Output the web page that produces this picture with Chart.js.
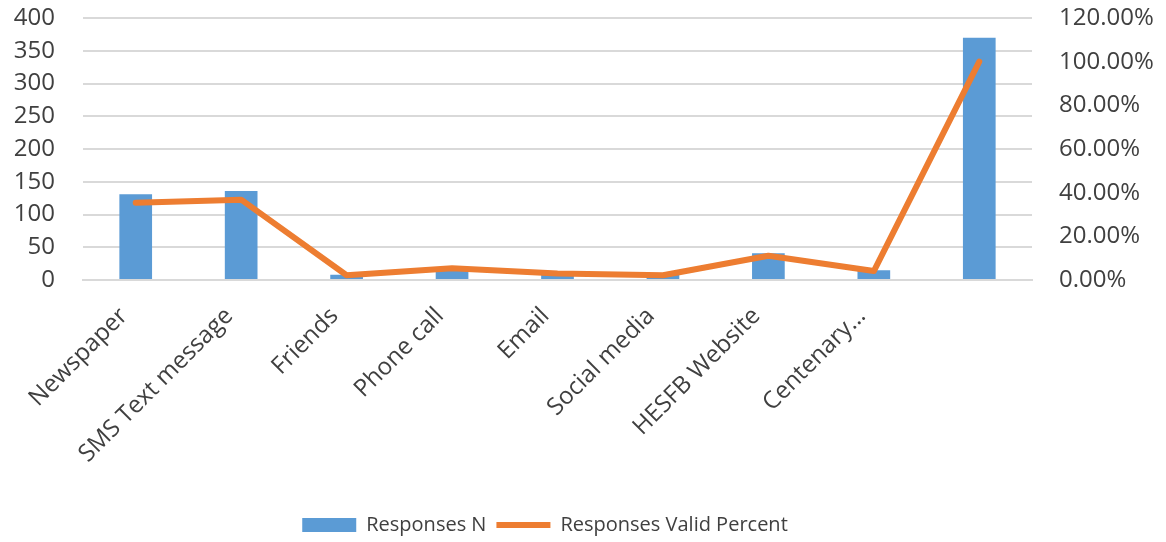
<!DOCTYPE html>
<html>
<head>
<meta charset="utf-8">
<script src="https://cdn.jsdelivr.net/npm/chart.js@4"></script>
<style>
  html, body { margin: 0; padding: 0; background: #fff; }
  #wrap { width: 1166px; height: 542px; position: relative; }
</style>
</head>
<body>
<div id="wrap"><canvas id="chart"></canvas></div>
<script>
const categories = ["Newspaper", "SMS Text message", "Friends", "Phone call", "Email", "Social media", "HESFB Website", "Centenary…", ""];
const responsesN = [131, 136, 8, 20, 11, 8, 41, 15, 370];
const validPercent = [35.4, 36.8, 2.2, 5.4, 3.0, 2.2, 11.1, 4.1, 100];
const leftTicks = [0, 400, 50];
const rightTicks = [0, 120, 20];

const TEXT = '#404040';
const FONT = '"Open Sans", "DejaVu Sans", sans-serif';

// axis label padding shouldn't push the plot area down
function fixAxis(w) {
    return (s) => { s.width = w; s.paddingTop = 0; s.paddingBottom = 0; };
}

// the legend sits a bit left of centre, under the plot
const shiftLegend = {
    id: 'shiftLegend',
    afterLayout(chart) {
        chart.legend.left -= 38;
        chart.legend.right -= 38;
        chart.legend.top += 3;
        chart.legend.bottom += 3;
    }
};

function initChart() {
    const ctx = document.getElementById('chart').getContext('2d');
    new Chart(ctx, {
        data: {
            labels: categories,
            datasets: [{
                type: 'line',
                label: 'Responses Valid Percent',
                data: validPercent,
                yAxisID: 'yR',
                borderColor: '#ED7D31',
                backgroundColor: '#ED7D31',
                borderWidth: 6,
                borderCapStyle: 'round',
                borderJoinStyle: 'round',
                pointRadius: 0,
                tension: 0,
                order: 0
            }, {
                type: 'bar',
                label: 'Responses N',
                data: responsesN,
                yAxisID: 'y',
                backgroundColor: '#5B9BD5',
                categoryPercentage: 1,
                barPercentage: 0.31,
                order: 1
            }]
        },
        plugins: [shiftLegend],
        options: {
            responsive: true,
            maintainAspectRatio: false,
            animation: false,
            layout: { padding: { top: 18, bottom: 0, left: 0, right: 0 } },
            plugins: {
                tooltip: { enabled: false },
                legend: {
                    position: 'bottom',
                    reverse: true,
                    labels: {
                        color: TEXT,
                        font: { family: FONT, size: 20 },
                        usePointStyle: true,
                        pointStyleWidth: 54,
                        boxHeight: 14,
                        padding: 10,
                        generateLabels: (chart) => {
                            const items = Chart.defaults.plugins.legend.labels.generateLabels(chart);
                            items.forEach(it => {
                                if (it.text === 'Responses N') {
                                    it.pointStyle = 'rect';
                                    it.lineWidth = 0;
                                } else {
                                    it.pointStyle = 'line';
                                    it.lineWidth = 6;
                                }
                            });
                            return items;
                        }
                    }
                }
            },
            scales: {
                x: {
                    grid: { display: false },
                    border: { color: '#D9D9D9', width: 2 },
                    ticks: {
                        color: TEXT,
                        font: { family: FONT, size: 24 },
                        minRotation: 45,
                        maxRotation: 45,
                        autoSkip: false,
                        padding: 14,
                        labelOffset: -12
                    },
                    afterFit: (s) => { s.height = 222; }
                },
                y: {
                    position: 'left',
                    min: leftTicks[0],
                    max: leftTicks[1],
                    ticks: {
                        stepSize: leftTicks[2],
                        autoSkip: false,
                        color: TEXT,
                        font: { family: FONT, size: 24 },
                        padding: 28
                    },
                    grid: { color: '#D9D9D9', lineWidth: 2, drawTicks: false },
                    border: { display: false },
                    afterFit: fixAxis(83)
                },
                yR: {
                    position: 'right',
                    min: rightTicks[0],
                    max: rightTicks[1],
                    ticks: {
                        stepSize: rightTicks[2],
                        autoSkip: false,
                        color: TEXT,
                        font: { family: FONT, size: 24 },
                        padding: 27,
                        callback: (v) => v.toFixed(2) + '%'
                    },
                    grid: { display: false, drawTicks: false },
                    border: { display: false },
                    afterFit: fixAxis(134)
                }
            }
        }
    });
}

window.onload = () => { initChart(); };
</script>
</body>
</html>
